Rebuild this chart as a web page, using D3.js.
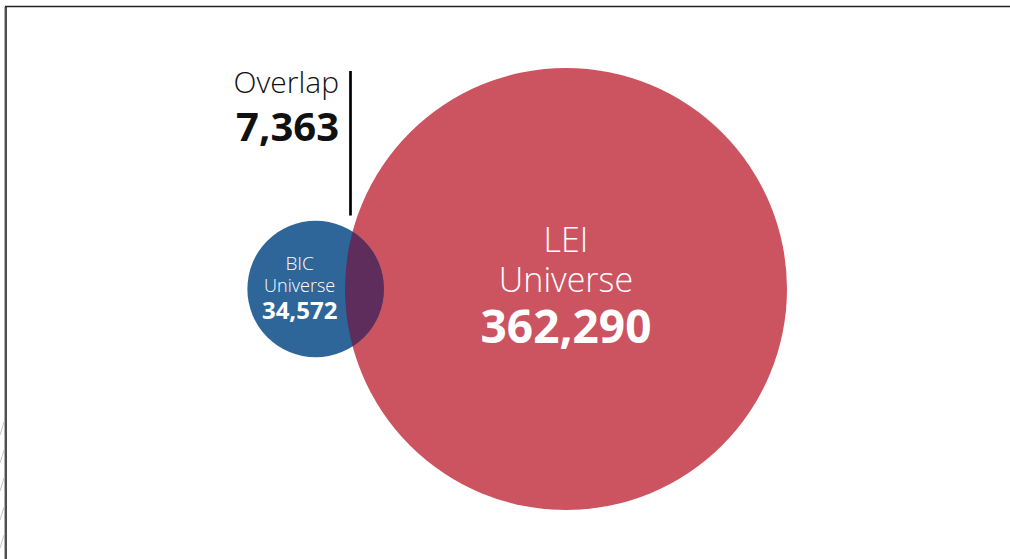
<!DOCTYPE html>
<html>
<head>
<meta charset="utf-8">
<script src="https://cdn.jsdelivr.net/npm/d3@7"></script>
<style>
  html, body { margin: 0; padding: 0; background: #fff; }
  svg { display: block; }
  text { font-family: "Open Sans", "Noto Sans", sans-serif; fill: #fff; }
</style>
</head>
<body>
<svg id="chart" width="1010" height="559"></svg>
<script>
// Set sizes
const setNames = ["BIC", "LEI"];
const setLabels = ["Universe", "Universe"];
const setValues = [34572, 362290];
const overlapValue = 7363;
const overlapLabel = "Overlap";
const setColors = ["#2e6699", "#cb5460"];
const overlapColor = "#5e2d5c";

const fmt = d3.format(",");
const svg = d3.select("#chart");

// Frame
svg.append("line").attr("x1", 4.5).attr("x2", 4.5).attr("y1", 7).attr("y2", 559)
  .attr("stroke", "#b0b0b0").attr("stroke-width", 1);
svg.append("line").attr("x1", 6).attr("x2", 6).attr("y1", 6).attr("y2", 559)
  .attr("stroke", "#222").attr("stroke-width", 1.6);
svg.append("line").attr("x1", 5).attr("x2", 1010).attr("y1", 6.5).attr("y2", 6.5)
  .attr("stroke", "#222").attr("stroke-width", 1.6);
// Small hatch marks outside the left edge
[422, 450, 478, 507, 535].forEach(y => {
  svg.append("line").attr("x1", 0).attr("y1", y + 13).attr("x2", 4).attr("y2", y)
    .attr("stroke", "#c4c4c4").attr("stroke-width", 1);
});

// Area-proportional radii
const r = d3.scaleSqrt().domain([0, d3.max(setValues)]).range([0, 221]);
const rA = r(setValues[0]), rB = r(setValues[1]);
const pxPerUnit = Math.PI * rB * rB / setValues[1];

// Lens area of two circles at distance d
function lensArea(d, r1, r2) {
  if (d >= r1 + r2) return 0;
  if (d <= Math.abs(r1 - r2)) return Math.PI * Math.min(r1, r2) ** 2;
  const a1 = Math.acos((d * d + r1 * r1 - r2 * r2) / (2 * d * r1));
  const a2 = Math.acos((d * d + r2 * r2 - r1 * r1) / (2 * d * r2));
  const k = Math.sqrt((-d + r1 + r2) * (d + r1 - r2) * (d - r1 + r2) * (d + r1 + r2));
  return r1 * r1 * a1 + r2 * r2 * a2 - 0.5 * k;
}
// Solve for the distance giving the overlap area
const target = overlapValue * pxPerUnit;
let lo = Math.abs(rB - rA), hi = rA + rB;
for (let i = 0; i < 60; i++) {
  const mid = (lo + hi) / 2;
  if (lensArea(mid, rA, rB) > target) lo = mid; else hi = mid;
}
const dist = (lo + hi) / 2;

const cy = 289;
const cxB = 566;
const cxA = cxB - dist;

const defs = svg.append("defs");
defs.append("clipPath").attr("id", "clipB")
  .append("circle").attr("cx", cxB).attr("cy", cy).attr("r", rB);

svg.append("circle").attr("cx", cxB).attr("cy", cy).attr("r", rB).attr("fill", setColors[1]);
svg.append("circle").attr("cx", cxA).attr("cy", cy).attr("r", rA).attr("fill", setColors[0]);
svg.append("circle").attr("cx", cxA).attr("cy", cy).attr("r", rA)
  .attr("fill", overlapColor).attr("clip-path", "url(#clipB)");

// LEI label
const gB = svg.append("g").attr("text-anchor", "middle");
gB.append("text").attr("x", cxB).attr("y", 252).attr("font-size", 34).attr("font-weight", 300).text(setNames[1]);
gB.append("text").attr("x", cxB).attr("y", 292).attr("font-size", 34).attr("font-weight", 300).text(setLabels[1]);
gB.append("text").attr("x", cxB).attr("y", 343).attr("font-size", 46).attr("font-weight", 700).text(fmt(setValues[1]));

// BIC label
const bx = cxA - 16;
const gA = svg.append("g").attr("text-anchor", "middle");
gA.append("text").attr("x", bx).attr("y", 270).attr("font-size", 19).attr("font-weight", 300).text(setNames[0]);
gA.append("text").attr("x", bx).attr("y", 292).attr("font-size", 18).attr("font-weight", 300).text(setLabels[0]);
gA.append("text").attr("x", bx).attr("y", 319).attr("font-size", 24).attr("font-weight", 700).text(fmt(setValues[0]));

// Overlap callout
const lensLeft = cxB - rB;
svg.append("line").attr("x1", lensLeft + 5.5).attr("x2", lensLeft + 5.5).attr("y1", 71).attr("y2", 215.5)
  .attr("stroke", "#000").attr("stroke-width", 2.7);
const gO = svg.append("g").attr("text-anchor", "end");
gO.append("text").attr("x", 339).attr("y", 93).attr("font-size", 30).attr("font-weight", 300)
  .style("fill", "#111").text(overlapLabel);
gO.append("text").attr("x", 339).attr("y", 141).attr("font-size", 40).attr("font-weight", 700)
  .style("fill", "#111").text(fmt(overlapValue));
</script>
</body>
</html>
